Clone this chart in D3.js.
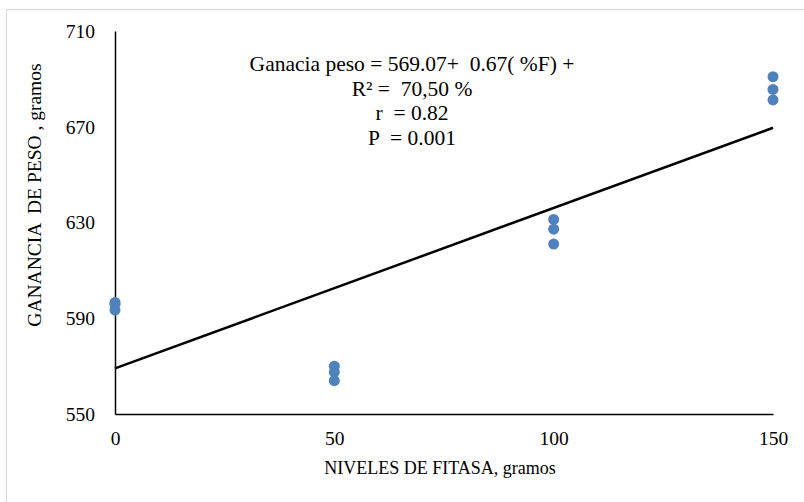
<!DOCTYPE html>
<html>
<head>
<meta charset="utf-8">
<script src="https://cdn.jsdelivr.net/npm/d3@7"></script>
<style>
  html, body { margin: 0; padding: 0; background: #fff; }
  svg { display: block; font-family: "Liberation Serif", "Times New Roman", serif; }
</style>
</head>
<body>
<svg id="chart" width="804" height="502"></svg>
<script>
// Fitase levels (g) and weight gain observations (g)
const niveles = [0, 0, 0, 50, 50, 50, 100, 100, 100, 150, 150, 150];
const ganancia = [596.6, 595.8, 593.4, 570.0, 567.5, 563.9, 631.3, 627.2, 621.0, 690.9, 685.6, 681.2];
const xTicks = [0, 50, 100, 150];
const yTicks = [550, 590, 630, 670, 710];
// Fitted line: Ganancia = 569.07 + 0.67 * %F
const intercepto = 569.07;
const pendiente = 0.67;
const anotacion = [
  "Ganacia peso = 569.07+  0.67( %F) +",
  "R\u00B2 =  70,50 %",
  "r  = 0.82",
  "P  = 0.001"
];

const svg = d3.select("#chart");
const m = { left: 115, right: 773, top: 31, bottom: 414 };

const x = d3.scaleLinear().domain([0, 150]).range([m.left, m.right]);
const y = d3.scaleLinear().domain([550, 710]).range([m.bottom, m.top]);

// frame
svg.append("rect").attr("x", 6.5).attr("y", 9.5).attr("width", 1000).attr("height", 1000)
  .attr("fill", "none").attr("stroke", "#d9d9d9").attr("stroke-width", 1);

// axes
const yAxis = d3.axisLeft(y).tickValues(yTicks).tickSize(0).tickPadding(20);
const gy = svg.append("g").attr("transform", `translate(${m.left},0)`).call(yAxis);
const xAxis = d3.axisBottom(x).tickValues(xTicks).tickSize(0).tickPadding(17);
const gx = svg.append("g").attr("transform", `translate(0,${m.bottom})`).call(xAxis);
[gy, gx].forEach(g => {
  g.select(".domain").attr("stroke", "#000").attr("stroke-width", 1.5);
  g.selectAll("text").attr("fill", "#000").style("font-size", "19.5px")
    .style("font-family", "Liberation Serif, serif");
});

// axis titles
svg.append("text").attr("x", 440).attr("y", 474)
  .attr("text-anchor", "middle").style("font-size", "18px")
  .text("NIVELES DE FITASA, gramos");
svg.append("text").attr("transform", `translate(41,195) rotate(-90)`)
  .attr("text-anchor", "middle").style("font-size", "19.5px")
  .style("white-space", "pre")
  .text("GANANCIA  DE PESO , gramos");

// regression line
svg.append("line")
  .attr("x1", x(0)).attr("y1", y(intercepto))
  .attr("x2", x(150)).attr("y2", y(intercepto + pendiente * 150))
  .attr("stroke", "#000").attr("stroke-width", 2.5);

// observations
svg.append("g").selectAll("circle").data(niveles).join("circle")
  .attr("cx", d => x(d)).attr("cy", (d, i) => y(ganancia[i]))
  .attr("r", 5.5).attr("fill", "#4f81bd");

// equation annotation
svg.append("g").selectAll("text").data(anotacion).join("text")
  .attr("x", 412).attr("y", (d, i) => 71 + i * 24.7)
  .attr("text-anchor", "middle").style("font-size", "21.5px")
  .style("white-space", "pre")
  .text(d => d);
</script>
</body>
</html>
